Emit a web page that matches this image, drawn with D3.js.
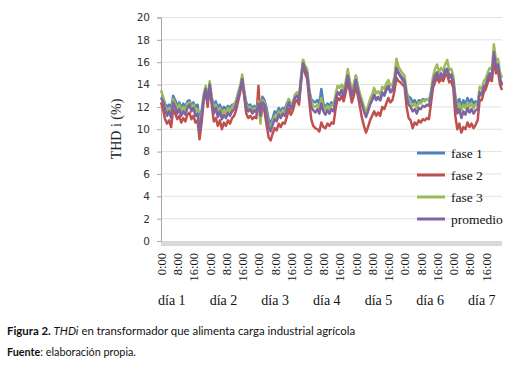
<!DOCTYPE html>
<html><head><meta charset="utf-8">
<script src="https://cdn.jsdelivr.net/npm/d3@7"></script>
<style>html,body{margin:0;padding:0;background:#fff;}svg{display:block;}</style>
</head><body>
<svg id="c" width="517" height="378"></svg>
<script>
const seriesNames = ["fase 1", "fase 2", "fase 3", "promedio"];
const seriesColors = ["#4F81BD", "#C0504D", "#9BBB59", "#8064A2"];
const yTicks = [0, 2, 4, 6, 8, 10, 12, 14, 16, 18, 20];
const hourTickLabels = ["0:00", "8:00", "16:00"];
const dayLabels = ["día 1", "día 2", "día 3", "día 4", "día 5", "día 6", "día 7"];
// hourly values, h = 0..168
const fase1 = [
12.9,12.8,12.3,12.0,12.2,11.9,13.0,12.6,12.1,12.4,
11.9,12.3,12.0,12.5,12.6,12.1,12.4,12.0,12.2,10.8,
11.6,12.8,13.5,12.6,13.8,12.8,12.1,12.5,11.9,12.2,
11.7,12.0,11.8,12.1,11.9,12.2,12.2,12.5,13.2,13.7,
14.4,13.3,12.4,12.1,12.2,11.9,12.1,11.8,12.6,11.9,
12.9,12.6,11.9,10.9,10.5,11.0,11.6,11.4,11.9,11.6,
11.9,11.8,12.3,12.7,12.1,12.4,12.9,13.1,12.6,14.3,
15.7,15.2,14.8,13.4,12.7,12.5,12.4,12.6,12.3,13.6,
12.3,12.0,12.3,12.1,12.4,12.2,12.8,13.3,13.1,13.5,
13.1,13.9,14.6,13.9,13.1,13.8,14.8,13.8,13.0,12.4,
11.9,11.4,11.8,12.3,12.6,13.0,12.6,12.8,12.6,13.2,
13.0,13.5,13.8,13.3,13.4,14.1,15.3,15.0,14.7,14.4,
14.2,13.2,12.9,12.8,12.4,12.6,12.2,12.6,12.5,12.7,
12.6,12.7,12.6,13.0,14.0,14.6,14.9,14.5,14.8,14.5,
15.1,15.2,14.6,14.7,14.2,12.9,12.3,12.7,12.0,12.6,
12.2,12.8,12.4,12.7,12.3,12.5,12.3,13.2,13.1,13.7,
13.9,14.4,14.8,14.6,16.6,15.5,15.6,14.4,13.9];
const fase2 = [
12.4,11.8,10.9,10.5,10.8,10.2,11.8,11.4,10.9,11.2,
10.6,11.0,10.7,11.3,11.5,10.9,11.2,10.6,10.8,9.1,
10.6,12.5,13.4,12.0,13.9,12.2,10.7,11.0,10.3,10.8,
10.0,10.6,10.3,10.8,10.5,11.0,11.2,11.7,12.5,13.3,
14.4,12.9,11.4,11.0,11.2,10.9,11.1,11.0,13.9,10.9,
12.0,11.6,10.4,9.3,9.0,9.6,10.1,9.9,10.5,10.2,
10.6,10.5,11.1,11.8,11.3,11.7,12.4,12.6,12.2,14.3,
16.2,15.0,14.5,12.6,10.9,10.3,10.1,10.0,9.8,10.6,
10.2,10.1,10.5,10.3,10.6,10.5,11.8,12.8,12.6,13.0,
12.5,13.3,14.3,13.4,12.4,13.0,13.9,13.0,12.0,11.0,
10.3,9.7,10.2,10.8,11.2,11.6,11.2,11.5,11.2,12.0,
11.8,12.3,12.8,12.4,12.6,13.4,14.6,14.3,14.2,14.0,
13.8,12.0,11.0,10.8,10.1,10.6,10.4,10.8,10.6,10.9,
10.8,11.0,10.9,12.3,13.7,14.2,14.6,14.2,14.5,14.3,
14.8,14.9,14.2,14.3,13.7,11.2,10.0,10.5,9.7,10.2,
10.0,10.6,10.2,10.5,10.1,10.4,10.8,12.6,12.6,13.3,
13.6,14.2,14.5,14.3,16.4,15.0,15.3,14.0,13.5];
const fase3 = [
13.5,12.9,12.1,11.6,11.9,11.4,12.7,12.3,11.8,12.2,
11.6,12.0,11.7,12.3,12.4,11.9,12.2,11.6,11.8,10.1,
11.5,13.1,13.9,12.8,14.3,12.9,11.8,12.2,11.5,11.9,
11.3,11.7,11.4,11.9,11.6,12.0,12.2,12.6,13.3,13.9,
14.9,13.5,12.2,11.9,12.0,11.6,11.9,11.7,12.5,10.5,
12.6,12.4,11.5,10.5,10.1,10.7,11.2,11.0,11.6,11.3,
11.7,11.5,12.1,12.7,12.1,12.5,13.1,13.3,12.9,14.8,
16.2,15.7,15.4,13.7,12.5,12.1,12.0,12.2,11.9,12.8,
12.0,11.7,12.1,11.8,12.2,12.1,13.1,13.9,13.7,14.0,
13.5,14.3,15.4,14.4,13.5,14.1,14.8,13.9,13.2,12.6,
12.0,11.5,12.1,12.7,13.1,13.7,13.2,13.4,13.1,13.8,
13.6,14.1,14.4,13.9,14.0,14.7,16.3,15.6,15.3,15.0,
14.8,13.4,12.6,12.4,12.1,12.3,11.9,12.4,12.3,12.6,
12.5,12.7,12.6,13.4,14.7,15.4,15.8,15.1,15.5,15.2,
15.8,16.2,15.3,15.4,14.8,13.0,11.9,12.3,11.7,12.2,
11.9,12.4,12.0,12.3,11.9,12.2,12.3,13.8,13.6,14.3,
14.5,15.1,15.5,15.3,17.6,16.2,16.3,15.1,14.6];
const promedio = [
12.8,12.5,11.8,11.2,11.6,11.0,12.4,12.0,11.4,11.8,
11.2,11.6,11.3,11.9,12.2,11.6,11.9,11.2,11.4,9.8,
11.2,12.8,13.6,12.4,14.0,12.6,11.4,11.9,11.1,11.6,
10.9,11.3,11.0,11.5,11.2,11.6,11.8,12.2,12.9,13.6,
14.5,13.2,12.0,11.6,11.8,11.4,11.7,11.5,12.3,11.2,
12.4,12.2,11.2,10.2,9.8,10.4,10.9,10.7,11.3,11.0,
11.4,11.2,11.8,12.4,11.8,12.2,12.8,13.0,12.6,14.5,
15.9,15.4,15.0,13.4,12.0,11.7,11.5,11.8,11.4,12.3,
11.6,11.3,11.7,11.4,11.8,11.6,12.6,13.3,13.1,13.5,
13.0,13.8,14.8,13.9,13.0,13.6,14.4,13.5,12.8,12.2,
11.6,11.1,11.6,12.2,12.6,13.1,12.7,12.9,12.6,13.3,
13.1,13.6,13.9,13.4,13.5,14.2,15.5,15.1,14.8,14.6,
14.3,13.0,12.2,12.0,11.6,11.8,11.4,11.9,11.8,12.1,
12.0,12.2,12.1,13.0,14.2,14.8,15.1,14.6,15.0,14.7,
15.3,15.4,14.8,14.9,14.3,12.6,11.4,11.8,11.0,11.6,
11.3,11.9,11.5,11.8,11.4,11.7,11.8,13.3,13.1,13.8,
14.0,14.6,15.0,14.8,16.9,15.7,15.8,14.6,14.0];
const allSeries = [fase1, fase2, fase3, promedio];

const svg = d3.select("#c");
const L = 161, R = 502, T = 17.5, B = 241;
const x = d3.scaleLinear().domain([0, 168]).range([L, R]);
const y = d3.scaleLinear().domain([0, 20]).range([B, T]);

// gridlines
svg.append("g").selectAll("line").data(yTicks.filter(d => d > 0)).join("line")
  .attr("x1", L).attr("x2", R).attr("y1", d => y(d)).attr("y2", d => y(d))
  .attr("stroke", "#e3e3dc").attr("stroke-width", 1);

// floor band
svg.append("rect").attr("x", L).attr("y", B).attr("width", R - L).attr("height", 5).attr("fill", "#d9d9d9");

// y axis
const yAxis = d3.axisLeft(y).tickValues(yTicks).tickSize(4).tickPadding(7);
const gy = svg.append("g").attr("transform", `translate(${L},0)`).call(yAxis);
gy.select(".domain").attr("stroke", "#a6a6a6");
gy.selectAll(".tick line").attr("stroke", "#a6a6a6");
gy.selectAll(".tick text").attr("font-family", "DejaVu Sans, sans-serif").attr("font-size", 10.5).attr("fill", "#333");

// y title
svg.append("text").attr("transform", `translate(121,129) rotate(-90)`)
  .attr("text-anchor", "middle").attr("font-family", "Liberation Serif, serif").attr("font-size", 14).attr("fill", "#222")
  .text("THD i (%)");

// x tick labels
const tickHours = d3.range(0, 168, 8);
const gx = svg.append("g").attr("transform", `translate(0,${B + 5})`)
  .call(d3.axisBottom(x).tickValues(tickHours).tickSize(0).tickPadding(0)
    .tickFormat(d => hourTickLabels[(d / 8) % 3]));
gx.select(".domain").remove();
gx.selectAll(".tick text")
  .attr("transform", "rotate(-90)").attr("text-anchor", "end")
  .attr("x", -7).attr("y", 0).attr("dy", "0.35em")
  .attr("font-family", "Liberation Serif, serif").attr("font-size", 12.5).attr("fill", "#111");

// day labels
const dayX = d3.scalePoint().domain(dayLabels).range([158, 468]);
svg.append("g").selectAll("text").data(dayLabels).join("text")
  .attr("x", d => dayX(d)).attr("y", 304.5)
  .attr("font-family", "Liberation Serif, serif").attr("font-size", 14).attr("fill", "#111")
  .text(d => d);

// lines
const line = d3.line().x((d, i) => x(i)).y(d => y(d));
svg.append("g").selectAll("path").data(allSeries).join("path")
  .attr("d", line).attr("fill", "none")
  .attr("stroke", (d, i) => seriesColors[i]).attr("stroke-width", 2.5)
  .attr("stroke-linejoin", "round");

// legend
const lg = svg.append("g").selectAll("g").data(seriesNames).join("g")
  .attr("transform", (d, i) => `translate(417,${153 + i * 22})`);
lg.append("line").attr("x1", 0).attr("x2", 28).attr("stroke", (d, i) => seriesColors[i]).attr("stroke-width", 3);
lg.append("text").attr("x", 34).attr("dy", "0.35em")
  .attr("font-family", "Liberation Serif, serif").attr("font-size", 13.5).attr("fill", "#111")
  .text(d => d);

// caption
const cap = svg.append("text").attr("x", 7).attr("y", 335).attr("font-family", "Lato, sans-serif").attr("font-size", 11.4).attr("fill", "#111");
cap.append("tspan").attr("font-weight", "bold").text("Figura 2. ");
cap.append("tspan").attr("font-style", "italic").text("THDi");
cap.append("tspan").text(" en transformador que alimenta carga industrial agrícola");
const src = svg.append("text").attr("x", 7).attr("y", 356).attr("font-family", "Lato, sans-serif").attr("font-size", 10.8).attr("fill", "#111");
src.append("tspan").attr("font-weight", "bold").text("Fuente");
src.append("tspan").text(": elaboración propia.");
</script>
</body></html>
